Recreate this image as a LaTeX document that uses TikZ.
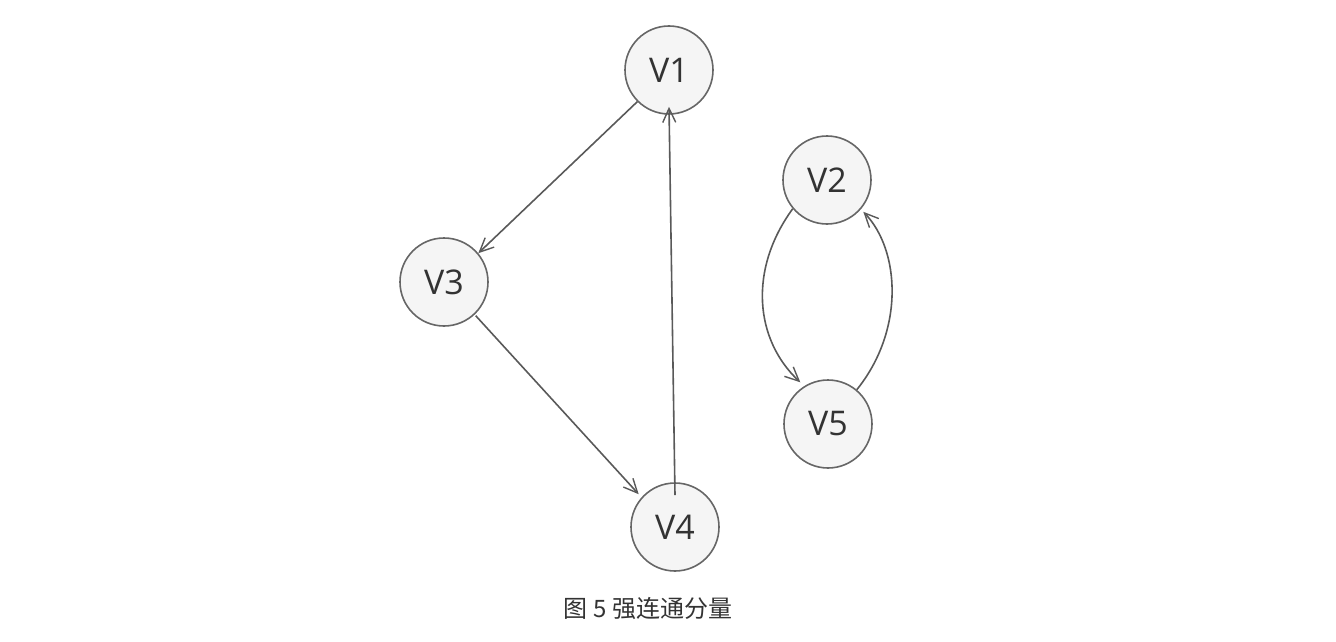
\documentclass[tikz,border=0pt]{standalone}
\usepackage{fontspec}
\setmainfont{Open Sans}
\newfontfamily\cjk{Noto Sans CJK SC}
\usetikzlibrary{arrows.meta}
\begin{document}
\begin{tikzpicture}[x=1pt,y=-1pt,
  vert/.style={circle,draw=black!60,fill=black!4,line width=1.6pt,minimum size=88pt,inner sep=0pt,text=black!80,font=\fontsize{34}{34}\selectfont},
  edge/.style={draw=black!65,line width=1.6pt,-{Straight Barb[length=14pt,width=13pt,line width=1.4pt]}}]
\useasboundingbox (0,0) rectangle (1336,642);
\node[vert] (v1) at (669,70) {V1};
\node[vert] (v3) at (444,282) {V3};
\node[vert] (v4) at (675,527) {V4};
\node[vert] (v2) at (827,180) {V2};
\node[vert] (v5) at (828,424) {V5};
\node[text=black!80,font=\cjk\fontsize{24}{24}\selectfont] (cap) at (648,608) {图 5 强连通分量};
\draw[edge] (v1.225) -- (v3.40);
\draw[edge] ([shift={(0,2)}]v3.315) -- ([shift={(-2,-4)}]v4.140);
\draw[edge] ([yshift=-13pt]v4.north) -- ([yshift=8pt]v1.south);
\draw[edge] (v2.220) .. controls (748,270) and (755,340) .. ([shift={(-2,-5)}]v5.125);
\draw[edge] (v5.50) .. controls (905,330) and (900,250) .. ([shift={(2,3)}]v2.320);
\end{tikzpicture}
\end{document}
